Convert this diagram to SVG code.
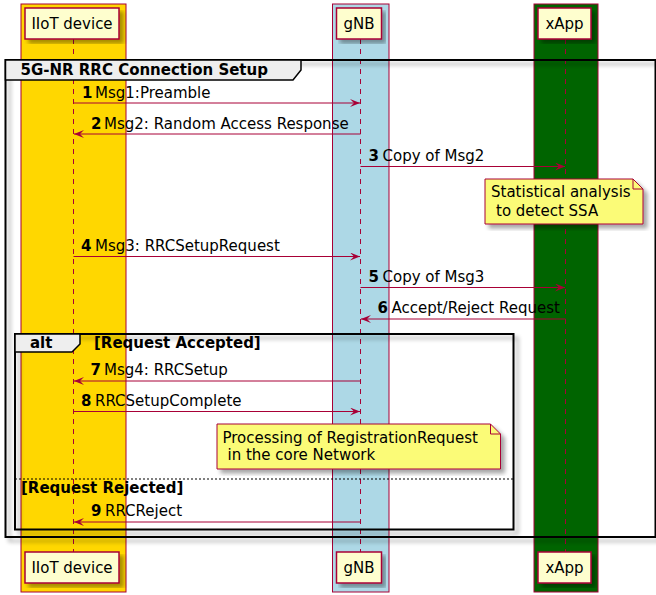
<svg xmlns="http://www.w3.org/2000/svg" width="656" height="595" viewBox="0 0 656 595">
<style>
text{font-family:"DejaVu Sans","Liberation Sans",sans-serif;font-size:15px;fill:#000}
.b{font-weight:bold}
.band{stroke:#A80036;stroke-width:1}
.life{stroke:#A80036;stroke-width:1;stroke-dasharray:5,5;fill:none}
.part{fill:#FEFECE;stroke:#A80036;stroke-width:1.5}
.msg{stroke:#A80036;stroke-width:1;fill:none;marker-end:url(#ah)}
.frame{fill:none;stroke:#000;stroke-width:2}
.tab{fill:#EEEEEE;stroke:#000;stroke-width:1.5}
.note{fill:#FBFB77;stroke:#A80036;stroke-width:1}
</style>
<defs>
<marker id="ah" markerUnits="userSpaceOnUse" markerWidth="11" markerHeight="9" refX="10" refY="4" orient="auto">
<path d="M0,0 L10,4 L0,8 L4,4 Z" fill="#A80036"/>
</marker>
<filter id="sh" x="-5%" y="-5%" width="115%" height="120%">
<feGaussianBlur in="SourceAlpha" stdDeviation="2"/>
<feOffset dx="4" dy="4"/>
<feComponentTransfer><feFuncA type="linear" slope="0.35"/></feComponentTransfer>
<feMerge><feMergeNode/><feMergeNode in="SourceGraphic"/></feMerge>
</filter>
</defs>
<rect width="656" height="595" fill="#fff"/>
<g id="bands">
<rect class="band" x="21" y="4" width="105" height="588" fill="#FFD700"/>
<rect class="band" x="332.5" y="4" width="56.5" height="588" fill="#ADD8E6"/>
<rect class="band" x="534" y="4" width="64" height="588" fill="#006400"/>
</g>
<g id="lifelines">
<line class="life" x1="73.5" y1="39" x2="73.5" y2="552"/>
<line class="life" x1="360.5" y1="39" x2="360.5" y2="552"/>
<line class="life" x1="565.5" y1="39" x2="565.5" y2="552"/>
</g>
<g id="group-frame">
<rect class="frame" x="5.5" y="60" width="650" height="477" filter="url(#sh)"/>
<polygon class="tab" points="5.5,60 301,60 301,70 293,80 5.5,80"/>
<text class="b" x="20.5" y="74.5">5G-NR RRC Connection Setup</text>
</g>
<g id="alt-frame">
<rect class="frame" x="15" y="334" width="498.5" height="195.5" filter="url(#sh)"/>
<polygon class="tab" points="15,334 80,334 80,344 72,352 15,352"/>
<text class="b" x="30" y="348">alt</text>
<text class="b" x="94" y="348">[Request Accepted]</text>
<line x1="15" y1="479" x2="513.5" y2="479" stroke="#000" stroke-width="1" stroke-dasharray="2,2"/>
<text class="b" x="21" y="493">[Request Rejected]</text>
</g>
<g id="iiot-device">
<rect class="part" x="25" y="8" width="94" height="31" filter="url(#sh)"/>
<text x="72" y="29" text-anchor="middle">IIoT device</text>
<rect class="part" x="25" y="552" width="94" height="31" filter="url(#sh)"/>
<text x="72" y="573" text-anchor="middle">IIoT device</text>
</g>
<g id="gnb">
<rect class="part" x="336.5" y="8" width="45" height="31" filter="url(#sh)"/>
<text x="359" y="29" text-anchor="middle">gNB</text>
<rect class="part" x="336.5" y="552" width="45" height="31" filter="url(#sh)"/>
<text x="359" y="573" text-anchor="middle">gNB</text>
</g>
<g id="xapp">
<rect class="part" x="538" y="8" width="53" height="31" filter="url(#sh)"/>
<text x="564.5" y="29" text-anchor="middle">xApp</text>
<rect class="part" x="538" y="552" width="53" height="31" filter="url(#sh)"/>
<text x="564.5" y="573" text-anchor="middle">xApp</text>
</g>
<g id="note-ssa">
<path class="note" d="M485,179 L633,179 L643,189 L643,224 L485,224 Z" filter="url(#sh)"/>
<path d="M633,179 L633,189 L643,189" fill="none" stroke="#A80036" stroke-width="1"/>
<text x="491" y="197">Statistical analysis</text>
<text x="496" y="215.5">to detect SSA</text>
</g>
<g id="note-core">
<path class="note" d="M217,424 L490.5,424 L500.5,434 L500.5,469 L217,469 Z" filter="url(#sh)"/>
<path d="M490.5,424 L490.5,434 L500.5,434" fill="none" stroke="#A80036" stroke-width="1"/>
<text x="222.5" y="442.5">Processing of RegistrationRequest</text>
<text x="227.5" y="460">in the core Network</text>
</g>
<g id="connectors">
<line class="msg" x1="73.5" y1="103" x2="360" y2="103"/>
<text class="b" x="82" y="97.5">1</text><text x="95" y="97.5">Msg1:Preamble</text>
<line class="msg" x1="360.5" y1="134" x2="74" y2="134"/>
<text class="b" x="91" y="128.5">2</text><text x="104" y="128.5">Msg2: Random Access Response</text>
<line class="msg" x1="360.5" y1="166.5" x2="565" y2="166.5"/>
<text class="b" x="368.5" y="160.5">3</text><text x="382.5" y="160.5">Copy of Msg2</text>
<line class="msg" x1="73.5" y1="256.5" x2="360" y2="256.5"/>
<text class="b" x="81" y="250.5">4</text><text x="95" y="250.5">Msg3: RRCSetupRequest</text>
<line class="msg" x1="360.5" y1="287.5" x2="565" y2="287.5"/>
<text class="b" x="368.5" y="281.5">5</text><text x="382.5" y="281.5">Copy of Msg3</text>
<line class="msg" x1="565.5" y1="319" x2="361" y2="319"/>
<text class="b" x="377.5" y="313">6</text><text x="391.5" y="313">Accept/Reject Request</text>
<line class="msg" x1="360.5" y1="381" x2="74" y2="381"/>
<text class="b" x="90.5" y="374.5">7</text><text x="104" y="374.5">Msg4: RRCSetup</text>
<line class="msg" x1="73.5" y1="411.5" x2="360" y2="411.5"/>
<text class="b" x="81" y="406">8</text><text x="95" y="406">RRCSetupComplete</text>
<line class="msg" x1="360.5" y1="522" x2="74" y2="522"/>
<text class="b" x="91" y="515.5">9</text><text x="105" y="515.5">RRCReject</text>
</g>
</svg>
